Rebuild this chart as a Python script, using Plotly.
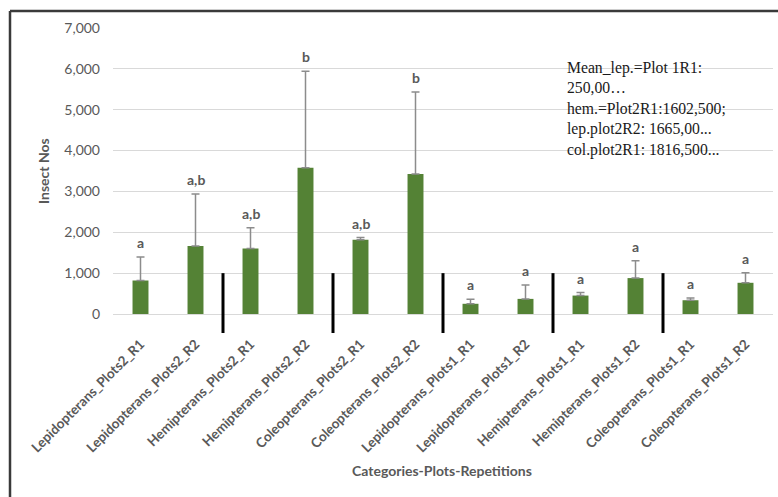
import plotly.graph_objects as go

# Mean insect counts per category / plot / repetition, with upper error (SD)
categories = [
    "Lepidopterans_Plots2_R1", "Lepidopterans_Plots2_R2",
    "Hemipterans_Plots2_R1", "Hemipterans_Plots2_R2",
    "Coleopterans_Plots2_R1", "Coleopterans_Plots2_R2",
    "Lepidopterans_Plots1_R1", "Lepidopterans_Plots1_R2",
    "Hemipterans_Plots1_R1", "Hemipterans_Plots1_R2",
    "Coleopterans_Plots1_R1", "Coleopterans_Plots1_R2",
]
means = [820, 1665, 1602.5, 3579, 1816.5, 3424, 250, 370, 451, 879, 337, 764]
err_up = [575, 1273, 507.5, 2364, 55.5, 2012, 112, 337, 74, 426, 57, 246]
letters = ["a", "a,b", "a,b", "b", "a,b", "b", "a", "a", "a", "a", "a", "a"]
y_ticks = [0, 1000, 2000, 3000, 4000, 5000, 6000, 7000]

note_lines = [
    "Mean_lep.=Plot 1R1:",
    "250,00…",
    "hem.=Plot2R1:1602,500;",
    "lep.plot2R2: 1665,00...",
    "col.plot2R1: 1816,500...",
]

W, H = 778, 497
ML, MR, MT, MB = 113, 5, 28, 183
PW, PH = W - ML - MR, H - MT - MB
Y_MAX = 7000
GRAY = "#595959"
SANS = "Lato, Open Sans, sans-serif"
SERIF = "Liberation Serif, Times New Roman, DejaVu Serif, serif"


def px_to_paper_x(px):
    return (px - ML) / PW


def px_to_paper_y(py):
    return (H - MB - py) / PH


fig = go.Figure()
fig.add_trace(go.Bar(
    x=categories,
    y=means,
    marker=dict(color="#548235", line=dict(width=0)),
    error_y=dict(
        type="data", symmetric=False, array=err_up,
        arrayminus=[0] * len(means),
        color="#8c8c8c", thickness=1.5, width=4,
    ),
    hoverinfo="x+y",
))

# significance letters above each error bar
annotations = []
for cat, m, e, lab in zip(categories, means, err_up, letters):
    annotations.append(dict(
        x=cat, y=m + e, xref="x", yref="y", text=f"<b>{lab}</b>",
        showarrow=False, yanchor="bottom", yshift=4,
        font=dict(family=SANS, size=14, color=GRAY),
    ))

# note block in serif type
annotations.append(dict(
    x=px_to_paper_x(565), y=px_to_paper_y(57), xref="paper", yref="paper",
    xanchor="left", yanchor="top", align="left", showarrow=False,
    text="<br>".join(note_lines),
    font=dict(family=SERIF, size=15.7, color="#1a1a1a"),
))

# axis titles
annotations.append(dict(
    x=px_to_paper_x(43), y=0.5, xref="paper", yref="paper",
    xanchor="center", yanchor="middle",
    text="<b>Insect Nos</b>", textangle=-90, showarrow=False,
    font=dict(family=SANS, size=14, color=GRAY),
))
annotations.append(dict(
    x=px_to_paper_x(442), y=px_to_paper_y(470), xref="paper", yref="paper",
    xanchor="center", yanchor="middle",
    text="<b>Categories-Plots-Repetitions</b>", showarrow=False,
    font=dict(family=SANS, size=14, color=GRAY),
))

shapes = []
# vertical separators between the insect-order groups
sep_top = 1000 / Y_MAX
sep_bottom = px_to_paper_y(333)
for i in range(1, len(categories) - 1, 2):
    shapes.append(dict(
        type="line", xref="x", yref="paper",
        x0=i + 0.5, x1=i + 0.5, y0=sep_bottom, y1=sep_top,
        line=dict(color="black", width=3),
    ))

# outer frame (top and left edges)
frame = dict(color="#3a3a3a", width=2.5)
shapes.append(dict(type="line", xref="paper", yref="paper",
                   x0=px_to_paper_x(10), x1=px_to_paper_x(W + 5),
                   y0=px_to_paper_y(11), y1=px_to_paper_y(11), line=frame))
shapes.append(dict(type="line", xref="paper", yref="paper",
                   x0=px_to_paper_x(10), x1=px_to_paper_x(10),
                   y0=px_to_paper_y(11), y1=px_to_paper_y(H + 5), line=frame))

fig.update_layout(
    width=W, height=H,
    margin=dict(l=ML, r=MR, t=MT, b=MB),
    paper_bgcolor="white", plot_bgcolor="white",
    bargap=0.71,
    showlegend=False,
    annotations=annotations,
    shapes=shapes,
    font=dict(family=SANS, color=GRAY),
)
fig.update_yaxes(
    range=[0, Y_MAX], tickvals=y_ticks, tickformat=",",
    showgrid=True, gridcolor="#d9d9d9", gridwidth=1,
    zeroline=True, zerolinecolor="#d9d9d9", zerolinewidth=1,
    showline=False, ticks="", ticklabelstandoff=12,
    tickfont=dict(family=SANS, size=14, color=GRAY),
)
fig.update_xaxes(
    type="category", tickangle=-45, showline=False, showgrid=False,
    ticks="outside", ticklen=16, tickcolor="rgba(0,0,0,0)",
    tickfont=dict(family=SANS, size=13.5, color=GRAY),
    tickprefix="<b>", ticksuffix="</b>",
)

fig.write_html("out.html")
